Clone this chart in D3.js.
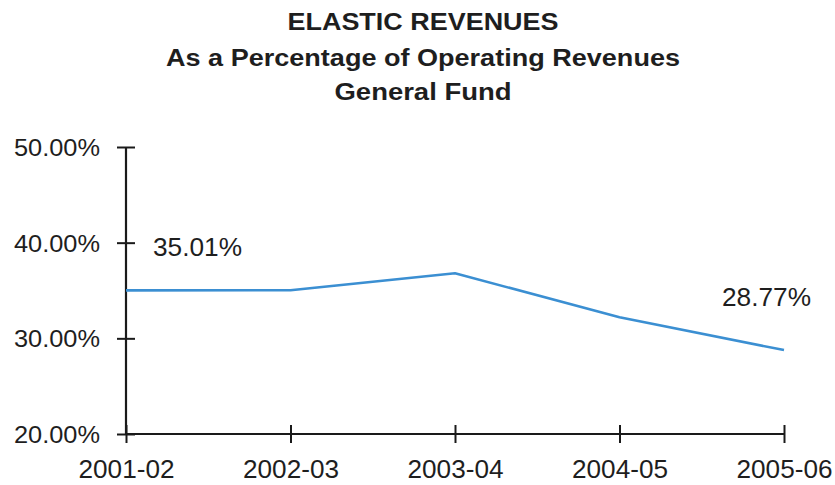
<!DOCTYPE html>
<html>
<head>
<meta charset="utf-8">
<script src="https://cdn.jsdelivr.net/npm/d3@7/dist/d3.min.js"></script>
<style>
  html, body { margin: 0; padding: 0; background: #fff; }
  svg { display: block; }
  text { font-family: "Liberation Sans", Arial, sans-serif; fill: #1e1e1e; }
</style>
</head>
<body>
<svg id="chart" width="835" height="485"></svg>
<script>
// Fiscal years and elastic revenue share (%) of operating revenues
const years = ["2001-02", "2002-03", "2003-04", "2004-05", "2005-06"];
const shares = [35.01, 35.03, 36.80, 32.20, 28.77];
const yTicks = [20, 30, 40, 50];
const titleLines = ["ELASTIC REVENUES", "As a Percentage of Operating Revenues", "General Fund"];
// Only the first and last points carry a value label
const labelled = [0, 4];

const svg = d3.select("#chart");

const x = d3.scalePoint().domain(years).range([126, 784]);
const y = d3.scaleLinear().domain([20, 50]).range([434, 147]);

// Title block
const titleBaselines = [30, 66, 100];
const titleWidths = [271, 514, 177];
const titleSizes = [24.5, 23.5, 23.5];
svg.append("g").selectAll("text")
  .data(titleLines)
  .join("text")
  .attr("x", 423)
  .attr("y", (d, i) => titleBaselines[i])
  .attr("text-anchor", "middle")
  .attr("font-size", (d, i) => titleSizes[i])
  .attr("font-weight", "bold")
  .attr("textLength", (d, i) => titleWidths[i])
  .attr("lengthAdjust", "spacingAndGlyphs")
  .text(d => d);

// Y axis: ticks cross the axis line
const yAxis = d3.axisLeft(y)
  .tickValues(yTicks)
  .tickFormat(d => d3.format(".2f")(d) + "%")
  .tickSizeInner(9)
  .tickSizeOuter(0)
  .tickPadding(17);
const gy = svg.append("g")
  .attr("transform", `translate(${x(years[0])},0)`)
  .call(yAxis);
gy.select(".domain").attr("stroke", "#1a1a1a").attr("stroke-width", 2.2)
  .attr("d", `M0,${y(20)}V${y(50)}`);
gy.selectAll(".tick line").attr("stroke", "#1a1a1a").attr("stroke-width", 2)
  .attr("x1", 9).attr("x2", -9);
gy.selectAll(".tick text")
  .attr("font-size", 24)
  .attr("font-family", "Liberation Sans, Arial, sans-serif")
  .attr("fill", "#1e1e1e")
  .attr("dy", "0.36em")
  .attr("textLength", 86)
  .attr("lengthAdjust", "spacingAndGlyphs");

// X axis
const xAxis = d3.axisBottom(x)
  .tickSizeInner(9)
  .tickSizeOuter(0)
  .tickPadding(17);
const gx = svg.append("g")
  .attr("transform", `translate(0,${y(20)})`)
  .call(xAxis);
gx.select(".domain").attr("stroke", "#1a1a1a").attr("stroke-width", 2.2)
  .attr("d", `M${x(years[0])},0H${x(years[years.length - 1])}`);
gx.selectAll(".tick line").attr("stroke", "#1a1a1a").attr("stroke-width", 2)
  .attr("y1", -9).attr("y2", 9);
gx.selectAll(".tick text")
  .attr("font-size", 26)
  .attr("font-family", "Liberation Sans, Arial, sans-serif")
  .attr("fill", "#1e1e1e")
  .attr("dy", "0.71em")
  .attr("textLength", 96)
  .attr("lengthAdjust", "spacingAndGlyphs");

// Revenue share line
const line = d3.line()
  .x((d, i) => x(years[i]))
  .y(d => y(d));
svg.append("path")
  .datum(shares)
  .attr("fill", "none")
  .attr("stroke", "#3b8fd2")
  .attr("stroke-width", 2.6)
  .attr("stroke-linejoin", "round")
  .attr("d", line);

// Value labels above the endpoints
const labelOffsetX = { 0: 27, 4: -62 };
svg.append("g").selectAll("text")
  .data(labelled)
  .join("text")
  .attr("x", i => x(years[i]) + labelOffsetX[i])
  .attr("y", i => y(shares[i]) - 34 + (i === 4 ? -10 : 0))
  .attr("font-size", 25)
  .attr("textLength", 89)
  .attr("lengthAdjust", "spacingAndGlyphs")
  .text(i => d3.format(".2f")(shares[i]) + "%");
</script>
</body>
</html>
